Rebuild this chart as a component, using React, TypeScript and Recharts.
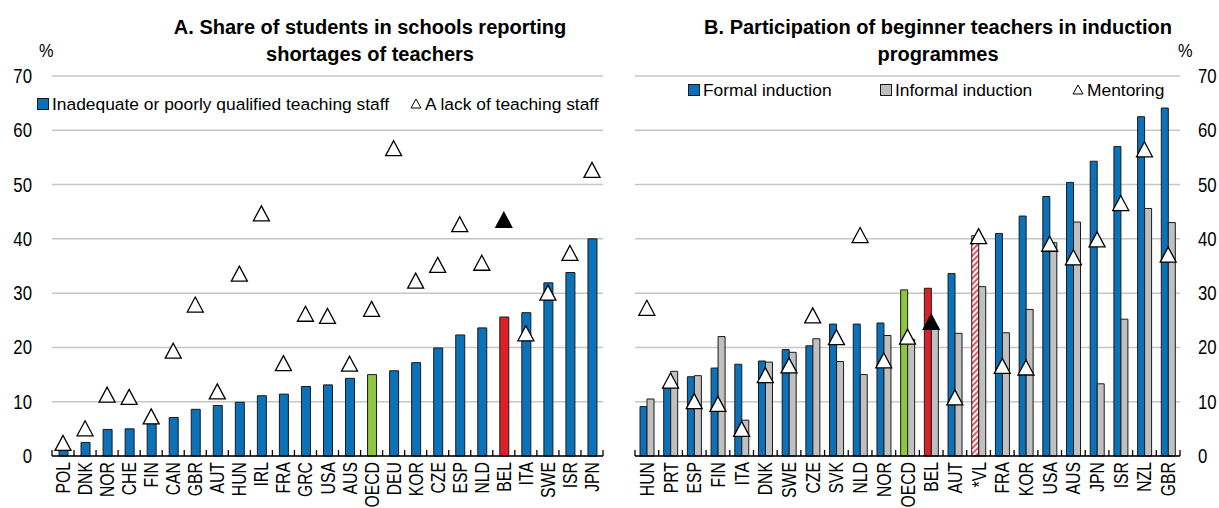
import { ComposedChart, Bar, Line, XAxis, YAxis, CartesianGrid, Cell } from "recharts";

const FONT = "'Liberation Sans', Arial, sans-serif";
const BLUE = "#0B72BA";
const GREY = "#C0C0C0";
const GREEN = "#8DC63F";
const RED = "#DA2128";
const EDGE = "#1a1a1a";

const Y_TICKS = [0, 10, 20, 30, 40, 50, 60, 70];

// Panel A
const countriesA = [
  "POL", "DNK", "NOR", "CHE", "FIN", "CAN", "GBR", "AUT", "HUN", "IRL", "FRA", "GRC", "USA",
  "AUS", "OECD", "DEU", "KOR", "CZE", "ESP", "NLD", "BEL", "ITA", "SWE", "ISR", "JPN",
];
const inadequate = [
  1.1, 2.5, 4.9, 5.0, 6.0, 7.1, 8.6, 9.3, 9.9, 11.1, 11.4, 12.8, 13.1,
  14.3, 15.0, 15.7, 17.2, 19.9, 22.3, 23.6, 25.6, 26.4, 31.9, 33.8, 40.0,
];
const lackOfStaff = [
  2.4, 5.1, 11.3, 10.9, 7.3, 19.4, 27.9, 11.9, 33.6, 44.7, 17.1, 26.2, 25.8,
  17.0, 27.1, 56.7, 32.3, 35.2, 42.7, 35.6, 43.5, 22.6, 30.1, 37.4, 52.7,
];

// Panel B
const countriesB = [
  "HUN", "PRT", "ESP", "FIN", "ITA", "DNK", "SWE", "CZE", "SVK", "NLD", "NOR", "OECD",
  "BEL", "AUT", "*VL", "FRA", "KOR", "USA", "AUS", "JPN", "ISR", "NZL", "GBR",
];
const formal = [
  9.1, 12.6, 14.6, 16.2, 16.9, 17.5, 19.6, 20.3, 24.3, 24.3, 24.5, 30.6,
  30.9, 33.6, 40.6, 41.0, 44.2, 47.8, 50.4, 54.3, 57.0, 62.5, 64.1,
];
const informal = [
  10.5, 15.6, 14.8, 22.0, 6.6, 17.3, 19.1, 21.6, 17.4, 15.0, 22.2, 21.5,
  23.8, 22.6, 31.2, 22.7, 27.0, 39.3, 43.1, 13.3, 25.2, 45.6, 43.0,
];
const mentoring = [
  27.3, 13.9, 10.1, 9.6, 5.0, 14.9, 16.7, 25.9, 21.9, 40.7, 17.6, 22.0,
  24.7, 10.8, 40.5, 16.6, 16.3, 39.1, 36.6, 39.9, 46.6, 56.5, 37.1,
];

const dataA = countriesA.map((name, i) => ({ name, inadequate: inadequate[i], lack: lackOfStaff[i] }));
const dataB = countriesB.map((name, i) => ({
  name,
  formal: formal[i],
  informal: informal[i],
  mentoring: mentoring[i],
}));

const fillFor = (name: string) => {
  if (name === "OECD") return GREEN;
  if (name === "BEL") return RED;
  if (name === "*VL") return "url(#vlHatch)";
  return BLUE;
};

// triangle marker, black for Belgium
const Triangle = (props: any) => {
  const { cx, cy, payload } = props;
  if (cx == null || cy == null) return null;
  const filled = payload && payload.name === "BEL";
  return (
    <path
      d={`M${cx},${cy - 7.5} L${cx + 8},${cy + 7.5} L${cx - 8},${cy + 7.5} Z`}
      fill={filled ? "#000" : "#fff"}
      stroke="#000"
      strokeWidth={1.3}
    />
  );
};

// rotated country label + tick marks between categories (narrowed text)
const CountryTick = (props: any) => {
  const { x, y, payload, index, last } = props;
  const half = payload && payload.offset ? payload.offset : 11;
  return (
    <g>
      <line x1={x - half} x2={x - half} y1={y - 6} y2={y} stroke="#000" strokeWidth={1.3} />
      {index === last && (
        <line x1={x + half} x2={x + half} y1={y - 6} y2={y} stroke="#000" strokeWidth={1.3} />
      )}
      <text
        transform={`translate(${x},${y + 6}) rotate(-90) scale(0.81,1)`}
        textAnchor="end"
        dy="0.36em"
        fontSize={19.5}
        fontFamily={FONT}
        fill="#000"
      >
        {payload.value}
      </text>
    </g>
  );
};

const ValueTick = (props: any) => {
  const { x, y, payload, textAnchor } = props;
  return (
    <text
      transform={`translate(${x},${y}) scale(0.86,1)`}
      textAnchor={textAnchor}
      dy="0.355em"
      fontSize={19.5}
      fontFamily={FONT}
      fill="#000"
    >
      {payload.value}
    </text>
  );
};

const textBase = { position: "absolute" as const, fontFamily: FONT, color: "#000", whiteSpace: "nowrap" as const };

const LegendSquare = ({ color, left, top }: { color: string; left: number; top: number }) => (
  <div style={{ position: "absolute", left, top, width: 10, height: 10, background: color, border: `1px solid ${EDGE}` }} />
);

const LegendTriangle = ({ left, top }: { left: number; top: number }) => (
  <svg width={12} height={11} style={{ position: "absolute", left, top }}>
    <path d="M6,1 L11,10 L1,10 Z" fill="#fff" stroke="#000" strokeWidth={1} />
  </svg>
);

const LegendText = ({ children, left, top }: { children: string; left: number; top: number }) => (
  <div style={{ ...textBase, left, top, fontSize: 17.4, lineHeight: "20px" }}>{children}</div>
);

export default function App() {
  return (
    <div style={{ position: "absolute", left: 0, top: 0, width: 1219, height: 508, background: "#fff", overflow: "hidden" }}>
      {/* titles */}
      <div style={{ ...textBase, left: 120, width: 500, top: 14, textAlign: "center", fontWeight: "bold", fontSize: 20, lineHeight: "27px" }}>
        A. Share of students in schools reporting
        <br />
        shortages of teachers
      </div>
      <div style={{ ...textBase, left: 688, width: 500, top: 14, textAlign: "center", fontWeight: "bold", fontSize: 20, lineHeight: "27px" }}>
        B. Participation of beginner teachers in induction
        <br />
        programmes
      </div>
      <div style={{ ...textBase, left: 39, top: 40, fontSize: 19, transform: "scaleX(0.86)", transformOrigin: "left" }}>%</div>
      <div style={{ ...textBase, left: 1178, top: 40, fontSize: 19, transform: "scaleX(0.86)", transformOrigin: "left" }}>%</div>

      {/* Panel A */}
      <div style={{ position: "absolute", left: 0, top: 0 }}>
        <ComposedChart width={610} height={508} data={dataA} margin={{ top: 76, right: 7, left: 0, bottom: 0 }} barSize={9}>
          <CartesianGrid vertical={false} stroke="#c6c6c6" strokeWidth={1.5} />
          <XAxis
            dataKey="name"
            interval={0}
            height={52}
            tickLine={false}
            tickSize={0}
            tickMargin={0}
            axisLine={{ stroke: "#000", strokeWidth: 1.5 }}
            tick={<CountryTick last={countriesA.length - 1} />}
          />
          <YAxis
            domain={[0, 70]}
            ticks={Y_TICKS}
            width={52}
            axisLine={false}
            tickLine={false}
            tickSize={0}
            tickMargin={20}
            tick={<ValueTick />}
          />
          <Bar dataKey="inadequate" stroke={EDGE} strokeWidth={1} isAnimationActive={false}>
            {dataA.map((d) => (
              <Cell key={d.name} fill={fillFor(d.name)} />
            ))}
          </Bar>
          <Line dataKey="lack" stroke="none" dot={<Triangle />} activeDot={false} isAnimationActive={false} />
        </ComposedChart>
      </div>

      {/* Panel B */}
      <div style={{ position: "absolute", left: 610, top: 0 }}>
        <ComposedChart width={609} height={508} data={dataB} margin={{ top: 76, right: 0, left: 25, bottom: 0 }} barSize={7} barGap={0}>
          <defs>
            <pattern id="vlHatch" patternUnits="userSpaceOnUse" width={4} height={4} patternTransform="rotate(45)">
              <rect width={4} height={4} fill="#fff" />
              <rect width={2} height={4} fill="#E8545C" />
            </pattern>
          </defs>
          <CartesianGrid vertical={false} stroke="#c6c6c6" strokeWidth={1.5} />
          <XAxis
            dataKey="name"
            interval={0}
            height={52}
            tickLine={false}
            tickSize={0}
            tickMargin={0}
            axisLine={{ stroke: "#000", strokeWidth: 1.5 }}
            tick={<CountryTick last={countriesB.length - 1} />}
          />
          <YAxis
            orientation="right"
            domain={[0, 70]}
            ticks={Y_TICKS}
            width={39}
            axisLine={false}
            tickLine={false}
            tickSize={0}
            tickMargin={18}
            tick={<ValueTick />}
          />
          <Bar dataKey="formal" stroke={EDGE} strokeWidth={1} isAnimationActive={false}>
            {dataB.map((d) => (
              <Cell key={d.name} fill={fillFor(d.name)} />
            ))}
          </Bar>
          <Bar dataKey="informal" fill={GREY} stroke={EDGE} strokeWidth={1} isAnimationActive={false} />
          <Line dataKey="mentoring" stroke="none" dot={<Triangle />} activeDot={false} isAnimationActive={false} />
        </ComposedChart>
      </div>

      {/* legends */}
      <LegendSquare color={BLUE} left={37} top={98} />
      <LegendText left={52} top={94}>Inadequate or poorly qualified teaching staff</LegendText>
      <LegendTriangle left={410} top={98} />
      <LegendText left={425} top={94}>A lack of teaching staff</LegendText>

      <LegendSquare color={BLUE} left={688} top={84} />
      <LegendText left={703} top={80}>Formal induction</LegendText>
      <LegendSquare color={GREY} left={880} top={84} />
      <LegendText left={895} top={80}>Informal induction</LegendText>
      <LegendTriangle left={1072} top={84} />
      <LegendText left={1087} top={80}>Mentoring</LegendText>
    </div>
  );
}
